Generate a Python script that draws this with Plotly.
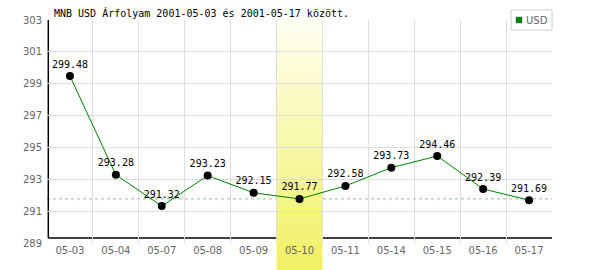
import plotly.graph_objects as go

dates = ["05-03", "05-04", "05-07", "05-08", "05-09", "05-10",
         "05-11", "05-14", "05-15", "05-16", "05-17"]
usd = [299.48, 293.28, 291.32, 293.23, 292.15, 291.77,
       292.58, 293.73, 294.46, 292.39, 291.69]
labels = ["299.48", "293.28", "291.32", "293.23", "292.15", "291.77",
          "292.58", "293.73", "294.46", "292.39", "291.69"]
y_ticks = [289, 291, 293, 295, 297, 299, 301, 303]
highlight = "05-10"
title = "MNB USD Árfolyam 2001-05-03 és 2001-05-17 között."

W, H = 600, 270
L, R, T, B = 47, 48, 20, 27
pw, ph = W - L - R, H - T - B

hl = dates.index(highlight)
ref_value = usd[hl]
n = len(dates)

shapes = []
# reference dashed line
shapes.append(dict(type="line", xref="paper", yref="y", x0=0, x1=1,
                   y0=ref_value, y1=ref_value, layer="between",
                   line=dict(color="#96c096", width=1, dash="3px,3px")))
# black axis lines (offset inside plot)
shapes.append(dict(type="line", xref="paper", yref="paper",
                   x0=1.3 / pw, x1=1.3 / pw, y0=5 / ph, y1=1, layer="between",
                   line=dict(color="black", width=1.5)))
shapes.append(dict(type="line", xref="paper", yref="paper",
                   x0=1.3 / pw, x1=1, y0=5 / ph, y1=5 / ph, layer="between",
                   line=dict(color="black", width=1.5)))
# gradient highlight band
steps = 60
ytop, ybot = 1.0, -B / ph
c0 = (255, 255, 242)
c1 = (240, 240, 96)
for i in range(steps):
    t = (i + 0.5) / steps
    col = tuple(round(c0[k] + (c1[k] - c0[k]) * t) for k in range(3))
    ya = ytop + (ybot - ytop) * i / steps
    yb = ytop + (ybot - ytop) * (i + 1) / steps
    shapes.append(dict(type="rect", xref="paper", yref="paper",
                       x0=hl / n, x1=(hl + 1) / n, y0=yb, y1=ya + 0.002,
                       layer="between", line=dict(width=0),
                       fillcolor="rgb(%d,%d,%d)" % col))
# legend box
lx0, lx1 = (511 - L) / pw, (552 - L) / pw
ly0, ly1 = (H - B - 30) / ph, (H - B - 10) / ph
shapes.append(dict(type="rect", xref="paper", yref="paper",
                   x0=lx0, x1=lx1, y0=ly0, y1=ly1, layer="above",
                   line=dict(color="#cccccc", width=1), fillcolor="white"))
shapes.append(dict(type="rect", xref="paper", yref="paper",
                   x0=(516 - L) / pw, x1=(522 - L) / pw,
                   y0=(H - B - 23) / ph, y1=(H - B - 17) / ph, layer="above",
                   line=dict(color="#666666", width=0.5), fillcolor="#008000"))

fig = go.Figure()
fig.add_trace(go.Scatter(
    x=dates, y=usd, mode="lines+markers+text", text=labels,
    textposition="top center",
    textfont=dict(family="DejaVu Sans Mono", size=10, color="black"),
    line=dict(color="#008000", width=1),
    marker=dict(color="black", size=8),
    showlegend=False, cliponaxis=False, name="USD"))

fig.update_layout(
    width=W, height=H, margin=dict(l=L, r=R, t=T, b=B),
    paper_bgcolor="white", plot_bgcolor="white",
    shapes=shapes,
    annotations=[
        dict(text=title, xref="paper", yref="paper",
             x=(52 - L) / pw, y=(H - B - 13) / ph, xanchor="left",
             yanchor="middle", showarrow=False,
             font=dict(family="DejaVu Sans Mono", size=10, color="black")),
        dict(text="USD", xref="paper", yref="paper",
             x=(524 - L) / pw, y=(H - B - 20) / ph, xanchor="left",
             yanchor="middle", showarrow=False,
             font=dict(family="DejaVu Sans", size=10, color="#666666")),
    ],
)
fig.update_xaxes(
    type="category", range=[-0.5, n - 0.5], tickson="boundaries",
    showgrid=True, gridcolor="#dddddd", gridwidth=1,
    showline=False, ticks="", zeroline=False,
    tickfont=dict(family="DejaVu Sans", size=10, color="#666666"),
    ticklabelstandoff=0)
fig.update_yaxes(
    range=[289, 303], tickvals=y_ticks,
    showgrid=True, gridcolor="#dddddd", gridwidth=1,
    showline=False, ticks="", zeroline=False,
    tickfont=dict(family="DejaVu Sans", size=10, color="#666666"),
    ticklabelstandoff=4)

fig.write_html("out.html")
